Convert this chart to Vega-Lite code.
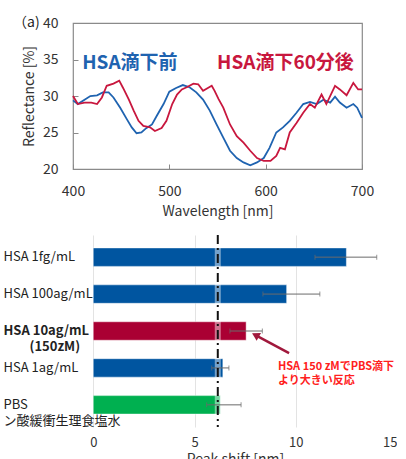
{
  "$schema": "https://vega.github.io/schema/vega-lite/v6.json",
  "padding": {"left": 3, "top": 15, "right": 0, "bottom": 0},
  "config": {
    "font": "Noto Sans CJK JP",
    "axis": {"labelColor": "#333333", "titleColor": "#333333", "titleFontWeight": "normal"}
  },
  "spacing": 13,
  "resolve": {"scale": {"color": "independent"}},
  "vconcat": [
    {
      "width": 289,
      "height": 146,
      "view": {"stroke": "#8a8a8a", "strokeWidth": 1.2},
      "encoding": {
        "x": {
          "field": "wl", "type": "quantitative",
          "scale": {"domain": [400, 700], "nice": false},
          "axis": {"title": "Wavelength [nm]", "values": [400, 500, 600, 700], "grid": false, "domain": false,
                   "tickSize": -5, "tickColor": "#8a8a8a", "labelPadding": 20, "labelFontSize": 14,
                   "titleFontSize": 14, "titlePadding": 6, "labelFlush": false, "labelOverlap": false}
        },
        "y": {
          "field": "r", "type": "quantitative",
          "scale": {"domain": [20, 40], "nice": false, "zero": false},
          "axis": {"title": "Reflectance [%]", "values": [20, 25, 30, 35, 40], "grid": false, "domain": false,
                   "tickSize": -5, "tickColor": "#8a8a8a", "labelPadding": 20, "labelFontSize": 14,
                   "titleFontSize": 14, "titlePadding": 6, "labelOverlap": false, "labelSeparation": 0}
        }
      },
      "layer": [
        {
          "data": {
            "values": [
              {"s": "before", "wl": 400, "r": 29.4}, {"s": "before", "wl": 405, "r": 28.9}, {"s": "before", "wl": 412, "r": 29.5},
              {"s": "before", "wl": 418, "r": 30.0}, {"s": "before", "wl": 425, "r": 30.1}, {"s": "before", "wl": 431, "r": 30.5},
              {"s": "before", "wl": 437, "r": 30.5}, {"s": "before", "wl": 442, "r": 29.8}, {"s": "before", "wl": 449, "r": 28.4},
              {"s": "before", "wl": 456, "r": 26.8}, {"s": "before", "wl": 461, "r": 25.7}, {"s": "before", "wl": 466, "r": 24.9},
              {"s": "before", "wl": 471, "r": 25.0}, {"s": "before", "wl": 476, "r": 25.6}, {"s": "before", "wl": 482, "r": 26.1},
              {"s": "before", "wl": 487, "r": 27.3}, {"s": "before", "wl": 494, "r": 28.9}, {"s": "before", "wl": 500, "r": 30.6},
              {"s": "before", "wl": 507, "r": 31.1}, {"s": "before", "wl": 514, "r": 31.5}, {"s": "before", "wl": 521, "r": 31.2},
              {"s": "before", "wl": 528, "r": 30.5}, {"s": "before", "wl": 535, "r": 29.5}, {"s": "before", "wl": 542, "r": 28.0},
              {"s": "before", "wl": 549, "r": 26.1}, {"s": "before", "wl": 556, "r": 24.3}, {"s": "before", "wl": 563, "r": 22.5},
              {"s": "before", "wl": 570, "r": 21.5}, {"s": "before", "wl": 577, "r": 20.9}, {"s": "before", "wl": 584, "r": 20.5},
              {"s": "before", "wl": 591, "r": 20.9}, {"s": "before", "wl": 598, "r": 21.5}, {"s": "before", "wl": 604, "r": 22.9},
              {"s": "before", "wl": 611, "r": 25.0}, {"s": "before", "wl": 618, "r": 25.7}, {"s": "before", "wl": 625, "r": 26.6},
              {"s": "before", "wl": 632, "r": 27.7}, {"s": "before", "wl": 639, "r": 28.9}, {"s": "before", "wl": 646, "r": 29.2},
              {"s": "before", "wl": 653, "r": 28.9}, {"s": "before", "wl": 660, "r": 29.5}, {"s": "before", "wl": 667, "r": 29.1},
              {"s": "before", "wl": 672, "r": 29.9}, {"s": "before", "wl": 677, "r": 29.1}, {"s": "before", "wl": 684, "r": 28.4},
              {"s": "before", "wl": 691, "r": 28.9}, {"s": "before", "wl": 695, "r": 28.4}, {"s": "before", "wl": 700, "r": 27.0},
              {"s": "after", "wl": 400, "r": 30.0}, {"s": "after", "wl": 405, "r": 28.9}, {"s": "after", "wl": 412, "r": 29.1},
              {"s": "after", "wl": 419, "r": 29.1}, {"s": "after", "wl": 425, "r": 28.9}, {"s": "after", "wl": 430, "r": 29.8},
              {"s": "after", "wl": 435, "r": 31.4}, {"s": "after", "wl": 442, "r": 31.7}, {"s": "after", "wl": 448, "r": 32.1},
              {"s": "after", "wl": 452, "r": 31.1}, {"s": "after", "wl": 458, "r": 29.5}, {"s": "after", "wl": 463, "r": 28.0},
              {"s": "after", "wl": 468, "r": 26.6}, {"s": "after", "wl": 473, "r": 25.9}, {"s": "after", "wl": 480, "r": 25.7},
              {"s": "after", "wl": 485, "r": 25.2}, {"s": "after", "wl": 492, "r": 25.6}, {"s": "after", "wl": 497, "r": 26.6},
              {"s": "after", "wl": 503, "r": 28.9}, {"s": "after", "wl": 508, "r": 30.2}, {"s": "after", "wl": 513, "r": 30.9},
              {"s": "after", "wl": 518, "r": 31.2}, {"s": "after", "wl": 525, "r": 31.7}, {"s": "after", "wl": 530, "r": 31.6},
              {"s": "after", "wl": 535, "r": 30.7}, {"s": "after", "wl": 540, "r": 31.1}, {"s": "after", "wl": 544, "r": 31.4},
              {"s": "after", "wl": 547, "r": 30.7}, {"s": "after", "wl": 551, "r": 29.6}, {"s": "after", "wl": 556, "r": 28.4},
              {"s": "after", "wl": 563, "r": 26.1}, {"s": "after", "wl": 570, "r": 24.5}, {"s": "after", "wl": 577, "r": 23.6},
              {"s": "after", "wl": 584, "r": 22.5}, {"s": "after", "wl": 591, "r": 21.5}, {"s": "after", "wl": 598, "r": 21.1},
              {"s": "after", "wl": 605, "r": 21.1}, {"s": "after", "wl": 611, "r": 21.8}, {"s": "after", "wl": 615, "r": 22.9},
              {"s": "after", "wl": 620, "r": 22.7}, {"s": "after", "wl": 625, "r": 25.0}, {"s": "after", "wl": 632, "r": 26.3},
              {"s": "after", "wl": 639, "r": 27.7}, {"s": "after", "wl": 646, "r": 28.9}, {"s": "after", "wl": 651, "r": 28.4},
              {"s": "after", "wl": 658, "r": 30.2}, {"s": "after", "wl": 663, "r": 28.9}, {"s": "after", "wl": 672, "r": 31.4},
              {"s": "after", "wl": 677, "r": 30.9}, {"s": "after", "wl": 684, "r": 30.1}, {"s": "after", "wl": 691, "r": 31.8},
              {"s": "after", "wl": 696, "r": 30.9}, {"s": "after", "wl": 700, "r": 30.9}
            ]
          },
          "mark": {"type": "line", "strokeWidth": 1.8},
          "encoding": {
            "color": {"field": "s", "type": "nominal", "sort": null,
                      "scale": {"domain": ["before", "after"], "range": ["#1f63b0", "#c8173e"]}, "legend": null}
          }
        },
        {
          "data": {"values": [
            {"t": "HSA滴下前", "s": "before", "wl": 409.5, "r": 34.5},
            {"t": "HSA滴下60分後", "s": "after", "wl": 549.5, "r": 34.5}
          ]},
          "mark": {"type": "text", "align": "left", "baseline": "middle", "fontSize": 19, "fontWeight": "bold"},
          "encoding": {
            "text": {"field": "t"},
            "color": {"field": "s", "type": "nominal", "legend": null}
          }
        },
        {
          "data": {"values": [{"t": "（a)", "wl": 400, "r": 40}]},
          "mark": {"type": "text", "align": "left", "baseline": "middle", "dx": -60, "fontSize": 14, "color": "#222222"},
          "encoding": {
            "text": {"field": "t"}
          }
        }
      ]
    },
    {
      "width": 324,
      "height": 192,
      "view": {"stroke": null},
      "layer": [
        {
          "data": {"values": [
            {"label": "HSA 1fg/mL", "shift": 12.5, "lo": 10.95, "hi": 14.0, "kind": "HSA"},
            {"label": "HSA 100ag/mL", "shift": 9.55, "lo": 8.38, "hi": 11.19, "kind": "HSA"},
            {"label": "HSA 10ag/mL\n\u200b\u3000\u3000(150zM)", "shift": 7.55, "lo": 6.75, "hi": 8.35, "kind": "HSA150"},
            {"label": "HSA 1ag/mL", "shift": 6.4, "lo": 5.85, "hi": 6.7, "kind": "HSA"},
            {"label": "PBS\nン酸緩衝生理食塩水", "shift": 6.27, "lo": 5.6, "hi": 7.3, "kind": "PBS"}
          ]},
          "layer": [
            {
              "mark": {"type": "bar", "stroke": "#ffffff", "strokeOpacity": 0.45, "strokeWidth": 1},
              "encoding": {
                "y": {
                  "field": "label", "type": "nominal", "sort": null,
                  "scale": {"type": "band", "paddingInner": 0.5, "paddingOuter": 0.35},
                  "axis": {
                    "title": null, "domain": false, "ticks": false, "tickSize": 0,
                    "labelAlign": "left", "labelPadding": 70, "labelFontSize": 13, "labelColor": "#222222",
                    "labelLineHeight": 16, "labelLimit": 0,
                    "labelExpr": "split(datum.label, '\\n')",
                    "labelFontWeight": {"condition": {"test": "indexof(datum.value, '10ag') >= 0", "value": "bold"}, "value": "normal"}
                  }
                },
                "x": {
                  "field": "shift", "type": "quantitative",
                  "scale": {"domain": [-1, 15], "nice": false, "zero": false},
                  "axis": {"values": [0, 5, 10, 15], "title": "Peak shift [nm]", "grid": true, "gridColor": "#e3e3e3",
                           "domain": false, "ticks": false, "labelFontSize": 13, "labelPadding": 9,
                           "titleFontSize": 14, "titlePadding": 3}
                },
                "color": {"field": "kind", "type": "nominal",
                          "scale": {"domain": ["HSA", "HSA150", "PBS"], "range": ["#0055a0", "#aa0033", "#00b050"]},
                          "legend": null}
              }
            },
            {
              "data": {"values": [{"ref": 6.15}]},
              "mark": {"type": "rule", "stroke": "#ffffff", "strokeWidth": 6, "opacity": 0.45},
              "encoding": {"x": {"field": "ref", "type": "quantitative"}}
            },
            {
              "mark": {"type": "rule", "color": "#6a6a6a", "strokeWidth": 1},
              "encoding": {
                "y": {"field": "label", "type": "nominal", "sort": null},
                "x": {"field": "lo", "type": "quantitative"},
                "x2": {"field": "hi"}
              }
            },
            {
              "mark": {"type": "tick", "color": "#6a6a6a", "size": 5, "thickness": 1, "orient": "vertical"},
              "encoding": {
                "y": {"field": "label", "type": "nominal", "sort": null},
                "x": {"field": "lo", "type": "quantitative"}
              }
            },
            {
              "mark": {"type": "tick", "color": "#6a6a6a", "size": 5, "thickness": 1, "orient": "vertical"},
              "encoding": {
                "y": {"field": "label", "type": "nominal", "sort": null},
                "x": {"field": "hi", "type": "quantitative"}
              }
            },
            {
              "data": {"values": [{"ref": 6.15}]},
              "mark": {"type": "rule", "color": "#111111", "strokeWidth": 2, "strokeDash": [9, 4, 2, 4]},
              "encoding": {"x": {"field": "ref", "type": "quantitative"}}
            }
          ]
        },
        {
          "layer": [
            {
              "data": {"values": [{"xa": 9.67, "ya": 3.2, "xb": 8.01, "yb": 2.71}]},
              "mark": {"type": "rule", "color": "#a0183c", "strokeWidth": 2.5},
              "encoding": {
                "x": {"field": "xa", "type": "quantitative"},
                "x2": {"field": "xb"},
                "y": {"field": "ya", "type": "quantitative", "scale": {"domain": [0, 5.2], "reverse": true, "nice": false, "zero": false}, "axis": null},
                "y2": {"field": "yb"}
              }
            },
            {
              "data": {"values": [{"xb": 8.01, "yb": 2.71}]},
              "mark": {"type": "point", "shape": "triangle-up", "filled": true, "color": "#a0183c", "size": 80, "angle": 299, "opacity": 1},
              "encoding": {
                "x": {"field": "xb", "type": "quantitative"},
                "y": {"field": "yb", "type": "quantitative"}
              }
            },
            {
              "data": {"values": [
                {"t": "HSA 150 zMでPBS滴下", "xt": 9.12, "yt": 3.58},
                {"t": "より大きい反応", "xt": 9.12, "yt": 3.96}
              ]},
              "mark": {"type": "text", "align": "left", "baseline": "middle", "fontSize": 11, "fontWeight": "bold", "color": "#ff2020"},
              "encoding": {
                "x": {"field": "xt", "type": "quantitative"},
                "y": {"field": "yt", "type": "quantitative"},
                "text": {"field": "t"}
              }
            }
          ]
        }
      ],
      "resolve": {"scale": {"y": "independent"}, "axis": {"y": "independent"}}
    }
  ]
}
